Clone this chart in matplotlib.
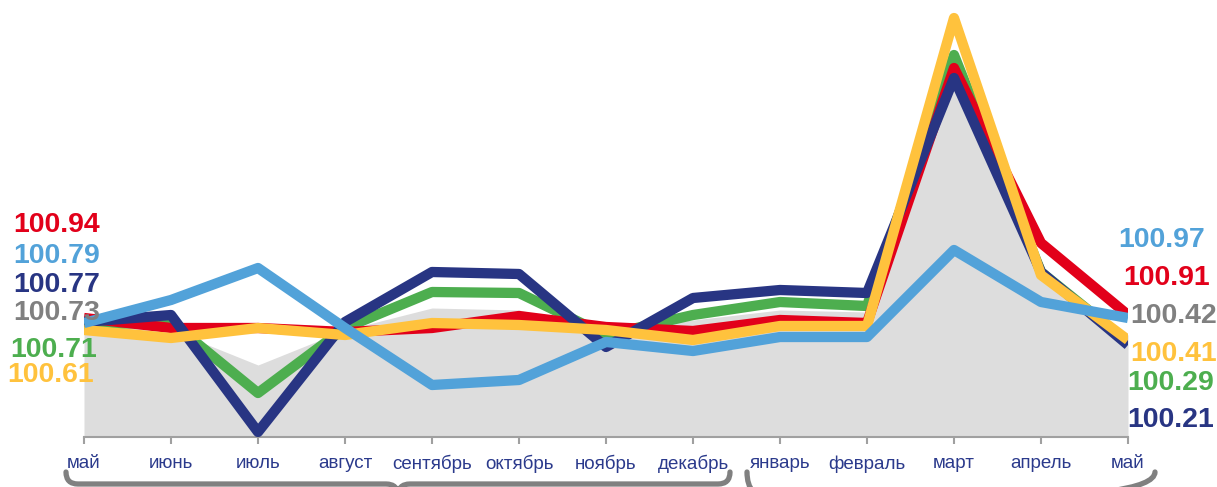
import matplotlib
matplotlib.use("Agg")
import matplotlib.pyplot as plt
from matplotlib.path import Path
from matplotlib.patches import PathPatch
from matplotlib.transforms import IdentityTransform

plt.rcParams['font.family'] = ['Liberation Sans', 'DejaVu Sans']

months = ["май", "июнь", "июль", "август", "сентябрь", "октябрь", "ноябрь",
          "декабрь", "январь", "февраль", "март", "апрель", "май"]

red = [101.19, 101.09, 101.09, 101.05, 101.09, 101.21, 101.10, 101.06, 101.17, 101.14, 103.69, 101.94, 101.22]
lightblue = [101.14, 101.37, 101.69, 101.09, 100.52, 100.57, 100.95, 100.86, 101.00, 101.00, 101.87, 101.35, 101.19]
navy = [101.15, 101.22, 100.05, 101.15, 101.65, 101.63, 100.90, 101.39, 101.47, 101.44, 103.59, 101.65, 100.92]
green = [101.12, 101.15, 100.44, 101.09, 101.45, 101.44, 101.02, 101.22, 101.35, 101.31, 103.82, 101.65, 100.95]
yellow = [101.07, 100.99, 101.09, 101.02, 101.14, 101.12, 101.07, 100.97, 101.11, 101.11, 104.19, 101.62, 100.97]
grey = [101.11, 101.07, 100.72, 101.07, 101.29, 101.27, 101.07, 101.17, 101.27, 101.25, 103.51, 101.61, 101.02]

left_labels = ["100.94", "100.79", "100.77", "100.73", "100.71", "100.61"]
right_labels = ["100.97", "100.91", "100.42", "100.41", "100.29", "100.21"]

C_RED = "#E2001A"
C_LB = "#52A2D9"
C_NAVY = "#283583"
C_GREY = "#808080"
C_GREEN = "#4DAE4F"
C_YEL = "#FFC23D"
C_AREA = "#DDDDDD"

W, H = 1217, 487
fig = plt.figure(figsize=(W / 100, H / 100), dpi=100)
ax = fig.add_axes([84 / W, 50 / H, (1128 - 84) / W, 437 / H])

x = list(range(len(months)))
ax.fill_between(x, 100.0, grey, color=C_AREA, lw=0, zorder=1)

lw = 7.4
for series, col, z in [(green, C_GREEN, 2), (red, C_RED, 3), (navy, C_NAVY, 4),
                       (yellow, C_YEL, 5), (lightblue, C_LB, 6)]:
    ax.plot(x, series, color=col, lw=lw, solid_joinstyle='round',
            solid_capstyle='butt', zorder=z)

ax.set_xlim(0, 12)
ax.set_ylim(100.0, 104.37)
ax.set_xticks(x)
ax.set_xticklabels(months, fontsize=13.5, color="#2B3A8C")
ax.set_yticks([])
for s in ["top", "left", "right"]:
    ax.spines[s].set_visible(False)
ax.spines["bottom"].set_color("#A0A0A0")
ax.spines["bottom"].set_linewidth(1.5)
ax.tick_params(axis='x', length=5, width=1.5, color="#A0A0A0", pad=8)

# value labels
def ftext(px, py, s, col):
    fig.text(px / W, 1 - py / H, s, color=col, fontsize=20.5,
             fontweight='bold', ha='left', va='baseline', zorder=10)

left_cols = [C_RED, C_LB, C_NAVY, C_GREY, C_GREEN, C_YEL]
left_pos = [(13, 232), (13, 263), (13, 292), (13, 320), (10, 357), (7, 382)]
for s, c, (px, py) in zip(left_labels, left_cols, left_pos):
    ftext(px, py, s, c)

right_cols = [C_LB, C_RED, C_GREY, C_YEL, C_GREEN, C_NAVY]
right_pos = [(1118, 247), (1123, 285), (1130, 323), (1130, 361), (1127, 390), (1127, 427)]
for s, c, (px, py) in zip(right_labels, right_cols, right_pos):
    ftext(px, py, s, c)

# braces under the axis
fig.canvas.draw()
def xpix(v):
    return ax.transData.transform((v, 100.0))[0]

def brace(xl, xr, ytop, yh, r, rt):
    xm = (xl + xr) / 2
    pts = [(xl, ytop), (xl, yh), (xl + r, yh),
           (xm - rt, yh), (xm, yh), (xm, yh + rt),
           (xm, yh), (xm + rt, yh),
           (xr - r, yh), (xr, yh), (xr, ytop)]
    codes = [Path.MOVETO, Path.CURVE3, Path.CURVE3,
             Path.LINETO, Path.CURVE3, Path.CURVE3,
             Path.CURVE3, Path.CURVE3,
             Path.LINETO, Path.CURVE3, Path.CURVE3]
    disp = [(px, H - py) for px, py in pts]
    p = PathPatch(Path(disp, codes), transform=IdentityTransform(),
                  fill=False, edgecolor="#808080", lw=3.8, capstyle='round')
    fig.add_artist(p)

brace(xpix(0) - 18, xpix(7) + 37, 472, 484, 12, 12)
brace(xpix(7) + 54, xpix(12) + 27, 472, 498, 24, 12)

fig.savefig("out.png", dpi=100)
